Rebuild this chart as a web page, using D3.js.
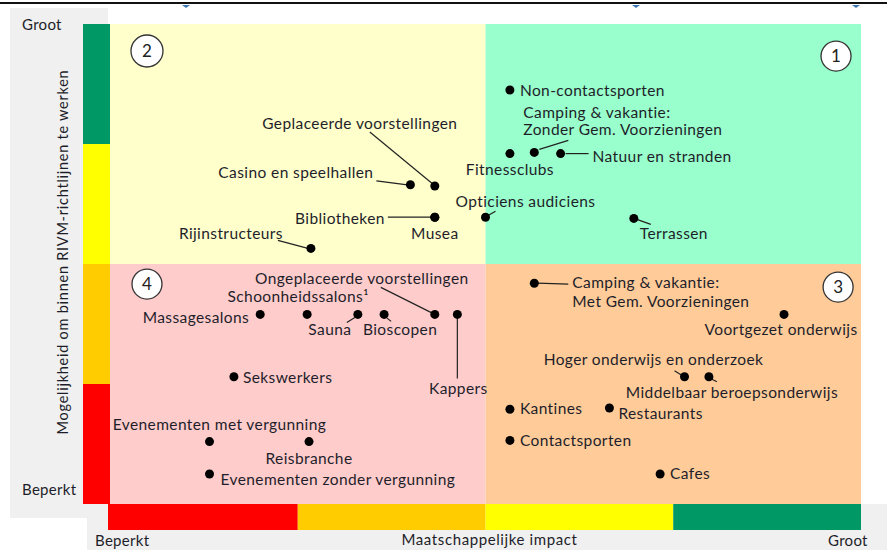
<!DOCTYPE html>
<html><head><meta charset="utf-8">
<script src="https://cdn.jsdelivr.net/npm/d3@7/dist/d3.min.js"></script>
<style>
html,body{margin:0;padding:0;background:#fff;}
svg{display:block;font-family:Lato,"Open Sans",sans-serif;}
</style></head>
<body><svg id="c" width="887" height="550"></svg>
<script>
// ---- data ----
const activities = ["Non-contactsporten","Camping & vakantie: Zonder Gem. Voorzieningen","Fitnessclubs","Natuur en stranden","Opticiens audiciens","Terrassen","Geplaceerde voorstellingen","Casino en speelhallen","Bibliotheken","Musea","Rijinstructeurs","Massagesalons","Schoonheidssalons¹","Sauna","Bioscopen","Ongeplaceerde voorstellingen","Kappers","Sekswerkers","Evenementen met vergunning","Reisbranche","Evenementen zonder vergunning","Camping & vakantie: Met Gem. Voorzieningen","Voortgezet onderwijs","Hoger onderwijs en onderzoek","Middelbaar beroepsonderwijs","Kantines","Restaurants","Contactsporten","Cafes"];
// maatschappelijke impact (0 = beperkt, 4 = groot)
const impact = [2.13,2.26,2.13,2.40,2.00,2.79,1.73,1.60,1.73,1.73,1.07,0.80,1.05,1.32,1.46,1.73,1.85,0.66,0.53,1.06,0.53,2.26,3.59,3.06,3.19,2.13,2.66,2.13,2.93];
// mogelijkheid om binnen RIVM-richtlijnen te werken (0 = beperkt, 4 = groot)
const possibility = [3.45,2.93,2.92,2.92,2.39,2.38,2.65,2.66,2.39,2.39,2.13,1.58,1.58,1.58,1.58,1.58,1.58,1.06,0.52,0.52,0.25,1.84,1.58,1.06,1.06,0.79,0.80,0.53,0.25];
const scaleLevels = [0,1,2,3];
const quadrantNumbers = ["1","2","3","4"];
const xEnds = ["Beperkt","Groot"];
const yEnds = ["Beperkt","Groot"];
const xTitle = "Maatschappelijke impact";
const yTitle = "Mogelijkheid om binnen RIVM-richtlijnen te werken";

// ---- label layout (annotation placement, px offsets from the dot) ----
const labelLayout = [
 {lines:[[10,1]],a:"start"},
 {lines:[[-11,-39],[-11,-22]],a:"start",split:true,lead:[5,-3,34,-12]},
 {lines:[[0,16]],a:"middle"},
 {lines:[[32,3]],a:"start",lead:[5,0,28,0]},
 {lines:[[40,-15]],a:"middle",lead:[3,-2,10,-6]},
 {lines:[[40,16]],a:"middle",lead:[3,1,17,6]},
 {lines:[[-75,-62]],a:"middle",lead:[-2,-2,-65,-54]},
 {lines:[[-37,-12]],a:"end",lead:[-34,-4,-3,0]},
 {lines:[[-50,2]],a:"end",lead:[-47,0,-3,0]},
 {lines:[[0,17]],a:"middle"},
 {lines:[[-28,-14]],a:"end",lead:[-33,-8,-3,0]},
 {lines:[[-11,4]],a:"end"},
 {lines:[[-9,-17]],a:"middle"},
 {lines:[[-28,16]],a:"middle",lead:[-3,3,-11,8]},
 {lines:[[16,16]],a:"middle",lead:[2,3,7,7]},
 {lines:[[-73,-35]],a:"middle",lead:[-54,-27,-2,-1]},
 {lines:[[1,75]],a:"middle",lead:[0,3,0,64]},
 {lines:[[9,1]],a:"start"},
 {lines:[[10,-17]],a:"middle"},
 {lines:[[0,17]],a:"middle"},
 {lines:[[11,6]],a:"start"},
 {lines:[[38,0],[38,19]],a:"start",split:true,lead:[3,0,34,1]},
 {lines:[[-3,16]],a:"middle"},
 {lines:[[-31,-17]],a:"middle",lead:[-10,-6,-2,-1]},
 {lines:[[23,16]],a:"middle",lead:[2,2,8,5]},
 {lines:[[10,0]],a:"start"},
 {lines:[[9,6]],a:"start"},
 {lines:[[10,1]],a:"start"},
 {lines:[[10,0]],a:"start"}
];

const svg = d3.select("#c");
const x = d3.scaleLinear().domain([0,4]).range([110,861]);
const y = d3.scaleLinear().domain([0,4]).range([504,24]);
const levelColors = ["#FF0000","#FFCC00","#FFFF00","#009966"];
const txtColor = "#1e1e2a";

// background panels
svg.append("rect").attr("x",10).attr("y",8).attr("width",98).attr("height",510).attr("fill","#F0F0F0");
svg.append("rect").attr("x",87).attr("y",504).attr("width",800).attr("height",46).attr("fill","#F0F0F0");

// quadrants
const quads = [
 {x0:0,x1:2,y0:2,y1:4,c:"#FFFFCC"},
 {x0:2,x1:4,y0:2,y1:4,c:"#99FFCC"},
 {x0:0,x1:2,y0:0,y1:2,c:"#FFCCCC"},
 {x0:2,x1:4,y0:0,y1:2,c:"#FFCC99"}
];
svg.selectAll("rect.q").data(quads).join("rect").attr("class","q")
 .attr("x",d=>x(d.x0)).attr("y",d=>y(d.y1))
 .attr("width",d=>x(d.x1)-x(d.x0)).attr("height",d=>y(d.y0)-y(d.y1))
 .attr("fill",d=>d.c);

// colour bars
svg.selectAll("rect.vb").data(scaleLevels).join("rect").attr("class","vb")
 .attr("x",83).attr("width",27)
 .attr("y",d=>y(d+1)).attr("height",d=>y(d)-y(d+1))
 .attr("fill",d=>levelColors[d]);
svg.selectAll("rect.hb").data(scaleLevels).join("rect").attr("class","hb")
 .attr("x",d=>d===0?x(0)-2:x(d)).attr("width",d=>x(d+1)-x(d)+(d===0?2:0))
 .attr("y",504).attr("height",26)
 .attr("fill",d=>levelColors[d]);

// top rule and markers
svg.append("rect").attr("x",0).attr("y",2).attr("width",887).attr("height",2).attr("fill","#111");
[186,636,856].forEach(px=>{
 svg.append("path").attr("d",`M${px-4},5 L${px+4},5 L${px},8 Z`).attr("fill","#3A78B5");
});

// quadrant number circles
const circ = [
 {n:quadrantNumbers[1],cx:x(0.197),cy:y(3.775),r:16},
 {n:quadrantNumbers[0],cx:x(3.867),cy:y(3.733),r:15},
 {n:quadrantNumbers[3],cx:x(0.197),cy:y(1.833),r:15},
 {n:quadrantNumbers[2],cx:x(3.878),cy:y(1.808),r:15}
];
const cg = svg.selectAll("g.circ").data(circ).join("g").attr("class","circ");
cg.append("circle").attr("cx",d=>d.cx).attr("cy",d=>d.cy).attr("r",d=>d.r)
 .attr("fill","#fff").attr("stroke","#333").attr("stroke-width",1.3);
cg.append("text").attr("x",d=>d.cx).attr("y",d=>d.cy+6).attr("text-anchor","middle")
 .attr("font-size",17).attr("fill","#222").text(d=>d.n);

// points
const pts = activities.map((name,i)=>({name,ix:impact[i],py:possibility[i],L:labelLayout[i]}));
const g = svg.append("g");
pts.forEach(p=>{
 const cx = x(p.ix), cy = y(p.py);
 if(p.L.lead){
  const l=p.L.lead;
  g.append("line").attr("x1",cx+l[0]).attr("y1",cy+l[1]).attr("x2",cx+l[2]).attr("y2",cy+l[3])
   .attr("stroke","#222").attr("stroke-width",1.2);
 }
});
g.selectAll("circle.pt").data(pts).join("circle").attr("class","pt")
 .attr("cx",d=>x(d.ix)).attr("cy",d=>y(d.py)).attr("r",4.5).attr("fill","#000");
pts.forEach(p=>{
 const cx = x(p.ix), cy = y(p.py);
 const parts = p.L.split ? [p.name.slice(0,p.name.indexOf(":")+1), p.name.slice(p.name.indexOf(":")+2)] : [p.name];
 parts.forEach((t,k)=>{
  const o=p.L.lines[k];
  g.append("text").attr("x",cx+o[0]).attr("y",cy+o[1]+5)
   .attr("text-anchor",p.L.a).attr("font-size",15.5).attr("letter-spacing",0.4)
   .attr("fill",txtColor).text(t);
 });
});

// axis texts
const at = svg.append("g").attr("fill",txtColor).attr("font-size",15).attr("letter-spacing",0.3);
at.append("text").attr("x",22).attr("y",30).text(yEnds[1]);
at.append("text").attr("x",22).attr("y",495).text(yEnds[0]);
at.append("text").attr("transform",`translate(68,${y(2)-12}) rotate(-90)`).attr("text-anchor","middle")
 .attr("font-size",14.5).attr("letter-spacing",0.75).text(yTitle);
at.append("text").attr("x",95).attr("y",546).text(xEnds[0]);
at.append("text").attr("x",x(2)+4).attr("y",545).attr("text-anchor","middle").attr("letter-spacing",0.6).text(xTitle);
at.append("text").attr("x",828).attr("y",546).text(xEnds[1]);
</script></body></html>
